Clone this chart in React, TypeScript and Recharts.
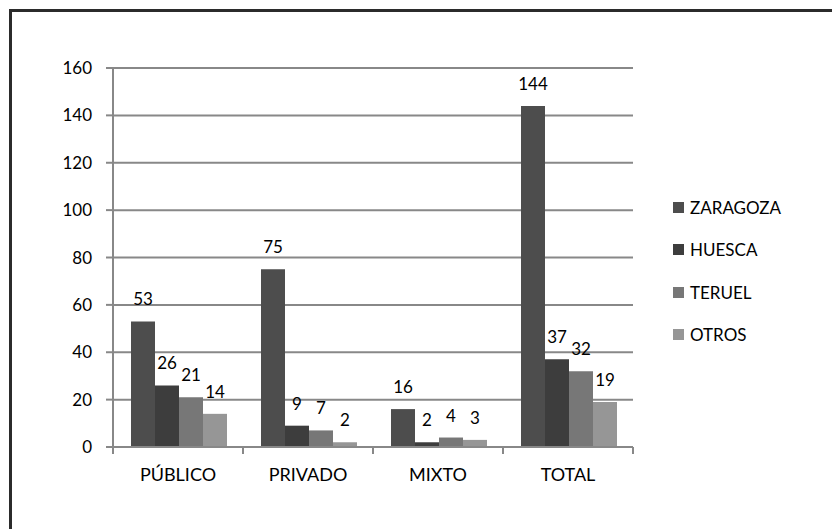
import React from "react";
import {
  BarChart,
  Bar,
  XAxis,
  YAxis,
  CartesianGrid,
  Legend,
  LabelList,
} from "recharts";

const categories = ["PÚBLICO", "PRIVADO", "MIXTO", "TOTAL"];
const zaragoza = [53, 75, 16, 144];
const huesca = [26, 9, 2, 37];
const teruel = [21, 7, 4, 32];
const otros = [14, 2, 3, 19];
const yTicks = [0, 20, 40, 60, 80, 100, 120, 140, 160];

const series = [
  { key: "ZARAGOZA", values: zaragoza, color: "#4d4d4d" },
  { key: "HUESCA", values: huesca, color: "#3d3d3d" },
  { key: "TERUEL", values: teruel, color: "#777777" },
  { key: "OTROS", values: otros, color: "#969696" },
];

const data = categories.map((name, i) => {
  const row: Record<string, any> = { name };
  series.forEach((s) => (row[s.key] = s.values[i]));
  return row;
});

const FONT = "Lato, 'Open Sans', sans-serif";
const AXIS = "#888888";
const PLOT_W = 520;

const CategoryTick = (props: any) => {
  const { x, y, payload } = props;
  const half = PLOT_W / categories.length / 2;
  return (
    <g>
      <line x1={x - half} x2={x - half} y1={y} y2={y + 7} stroke={AXIS} strokeWidth={2} />
      <line x1={x + half} x2={x + half} y1={y} y2={y + 7} stroke={AXIS} strokeWidth={2} />
      <text
        x={x}
        y={y + 34}
        textAnchor="middle"
        fontSize={18}
        fontFamily={FONT}
        fill="#000"
      >
        {payload.value}
      </text>
    </g>
  );
};

const LegendBox = () => (
  <div style={{ fontFamily: FONT, fontSize: 17, color: "#000" }}>
    {series.map((s) => (
      <div
        key={s.key}
        style={{ display: "flex", alignItems: "center", height: 42.5 }}
      >
        <span
          style={{
            display: "inline-block",
            width: 11,
            height: 11,
            background: s.color,
            marginRight: 6,
          }}
        />
        <span>{s.key}</span>
      </div>
    ))}
  </div>
);

export default function App() {
  return (
    <div
      style={{
        position: "absolute",
        left: 0,
        top: 0,
        width: 832,
        height: 529,
        overflow: "hidden",
        background: "#fff",
      }}
    >
      <div
        style={{
          position: "absolute",
          left: 9,
          top: 9,
          width: 900,
          height: 600,
          border: "3px solid #2b2b2b",
          boxSizing: "border-box",
        }}
      />
      <div style={{ position: "absolute", left: 0, top: 0 }}>
        <BarChart
          width={832}
          height={529}
          data={data}
          margin={{ top: 68, right: 199, bottom: 32, left: 0 }}
          barCategoryGap={18}
          barGap={0}
        >
          <CartesianGrid
            vertical={false}
            stroke={AXIS}
            strokeWidth={2}
          />
          <XAxis
            dataKey="name"
            height={50}
            tickLine={false}
            axisLine={{ stroke: AXIS, strokeWidth: 2 }}
            tickSize={0}
            tickMargin={0}
            tick={<CategoryTick />}
            interval={0}
          />
          <YAxis
            width={113}
            domain={[0, 160]}
            ticks={yTicks}
            interval={0}
            tickSize={7}
            tickMargin={14}
            tickLine={{ stroke: AXIS, strokeWidth: 2 }}
            axisLine={{ stroke: AXIS, strokeWidth: 2 }}
            tick={{ fontSize: 17, fontFamily: FONT, fill: "#000" }}
          />
          <Legend
            layout="vertical"
            align="center"
            verticalAlign="middle"
            content={<LegendBox />}
            wrapperStyle={{ left: 673, top: 186, width: 150 }}
          />
          {series.map((s) => (
            <Bar
              key={s.key}
              dataKey={s.key}
              fill={s.color}
              isAnimationActive={false}
            >
              <LabelList
                dataKey={s.key}
                position="top"
                offset={16}
                fontSize={17}
                fontFamily={FONT}
                fill="#000"
              />
            </Bar>
          ))}
        </BarChart>
      </div>
    </div>
  );
}
